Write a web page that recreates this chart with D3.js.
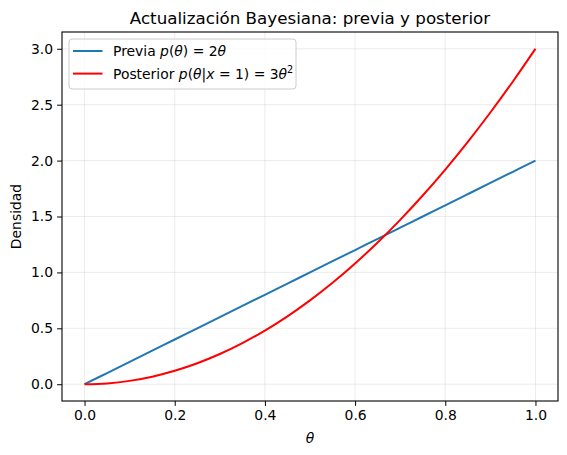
<!DOCTYPE html>
<html>
<head>
<meta charset="utf-8">
<script src="https://cdn.jsdelivr.net/npm/d3@7"></script>
<style>
  body { margin: 0; background: #fff; }
  text { font-family: "DejaVu Sans", sans-serif; fill: #000; }
</style>
</head>
<body>
<script>
// values
var theta = [0, 0.05, 0.1, 0.15, 0.2, 0.25, 0.3, 0.35, 0.4, 0.45, 0.5,
             0.55, 0.6, 0.65, 0.7, 0.75, 0.8, 0.85, 0.9, 0.95, 1.0];
var previa = [0, 0.1, 0.2, 0.3, 0.4, 0.5, 0.6, 0.7, 0.8, 0.9, 1.0,
              1.1, 1.2, 1.3, 1.4, 1.5, 1.6, 1.7, 1.8, 1.9, 2.0];
var posterior = [0, 0.0075, 0.03, 0.0675, 0.12, 0.1875, 0.27, 0.3675, 0.48, 0.6075, 0.75,
                 0.9075, 1.08, 1.2675, 1.47, 1.6875, 1.92, 2.1675, 2.43, 2.7075, 3.0];
var xTicks = [0.0, 0.2, 0.4, 0.6, 0.8, 1.0];
var yTicks = [0.0, 0.5, 1.0, 1.5, 2.0, 2.5, 3.0];

var svgWidth = 567, svgHeight = 455;
var margin = {top: 32, right: 9, bottom: 54, left: 62};
var width = svgWidth - margin.left - margin.right;
var height = svgHeight - margin.top - margin.bottom;

var svg = d3.select("body").append("svg")
  .attr("width", svgWidth)
  .attr("height", svgHeight);

var chart = svg.append("g")
  .attr("transform", `translate(${margin.left}, ${margin.top})`);

var x = d3.scaleLinear().domain([-0.05, 1.05]).range([0, width]);
var y = d3.scaleLinear().domain([-0.15, 3.15]).range([height, 0]);

// grid
chart.append("g").selectAll("line").data(xTicks).enter().append("line")
  .attr("x1", d => x(d)).attr("x2", d => x(d))
  .attr("y1", 0).attr("y2", height)
  .attr("stroke", "#b0b0b0").attr("stroke-opacity", 0.3).attr("stroke-width", 0.8);
chart.append("g").selectAll("line").data(yTicks).enter().append("line")
  .attr("y1", d => y(d)).attr("y2", d => y(d))
  .attr("x1", 0).attr("x2", width)
  .attr("stroke", "#b0b0b0").attr("stroke-opacity", 0.3).attr("stroke-width", 0.8);

var line = d3.line()
  .x((d, i) => x(theta[i]))
  .y(d => y(d))
  .curve(d3.curveMonotoneX);

chart.append("path").datum(previa)
  .attr("fill", "none").attr("stroke", "#1f77b4").attr("stroke-width", 2)
  .attr("d", line);
chart.append("path").datum(posterior)
  .attr("fill", "none").attr("stroke", "red").attr("stroke-width", 2)
  .attr("d", line);

// axes
var xAxis = chart.append("g")
  .attr("transform", `translate(0, ${height})`)
  .call(d3.axisBottom(x).tickValues(xTicks).tickFormat(d3.format(".1f")).tickSizeOuter(0).tickSize(4.9).tickPadding(4));
var yAxis = chart.append("g")
  .call(d3.axisLeft(y).tickValues(yTicks).tickFormat(d3.format(".1f")).tickSizeOuter(0).tickSize(4.9).tickPadding(4));
[xAxis, yAxis].forEach(function(a) {
  a.select(".domain").remove();
  a.selectAll("line").attr("stroke", "#000").attr("stroke-width", 1);
  a.selectAll("text").style("font-size", "13.9px").style("font-family", "DejaVu Sans");
});

chart.append("rect")
  .attr("width", width).attr("height", height)
  .attr("fill", "none").attr("stroke", "#000").attr("stroke-width", 1.1);

// title and labels
svg.append("text")
  .attr("x", margin.left + width / 2).attr("y", 24)
  .attr("text-anchor", "middle").style("font-size", "16.7px")
  .text("Actualización Bayesiana: previa y posterior");

svg.append("text")
  .attr("transform", `translate(21, ${margin.top + height / 2}) rotate(-90)`)
  .attr("text-anchor", "middle").style("font-size", "13.9px")
  .text("Densidad");

svg.append("text")
  .attr("x", margin.left + width / 2).attr("y", 443)
  .attr("text-anchor", "middle").style("font-size", "13.9px").style("font-style", "italic")
  .text("θ");

// legend
var legend = chart.append("g").attr("transform", "translate(7, 7)");
legend.append("rect")
  .attr("width", 227).attr("height", 50).attr("rx", 3)
  .attr("fill", "#fff").attr("fill-opacity", 0.8)
  .attr("stroke", "#cccccc").attr("stroke-width", 1);

var entries = [
  {color: "#1f77b4", parts: [["Previa ", false], ["p", true], ["(", false], ["θ", true], [") = 2", false], ["θ", true]]},
  {color: "red", parts: [["Posterior ", false], ["p", true], ["(", false], ["θ", true], ["|", false], ["x", true], [" = 1) = 3", false], ["θ", true]], sup: "2"}
];
entries.forEach(function(e, i) {
  var yy = 12 + i * 22.6;
  legend.append("line")
    .attr("x1", 4).attr("x2", 33.5).attr("y1", yy).attr("y2", yy)
    .attr("stroke", e.color).attr("stroke-width", 2);
  var t = legend.append("text")
    .attr("x", 44).attr("y", yy + 5).style("font-size", "13.9px");
  e.parts.forEach(function(p) {
    t.append("tspan").style("font-style", p[1] ? "italic" : "normal").text(p[0]);
  });
  if (e.sup) {
    t.append("tspan").attr("dy", -6).style("font-size", "9.7px").text(e.sup);
  }
});
</script>
</body>
</html>
